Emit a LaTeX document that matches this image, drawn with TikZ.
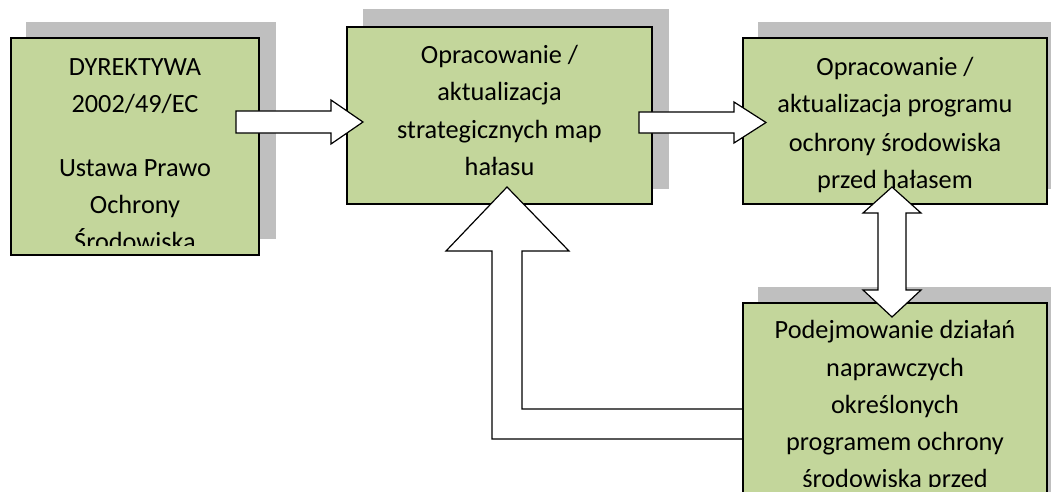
\documentclass[tikz,border=0pt]{standalone}
\usepackage{fontspec}
\setmainfont{Carlito}
\definecolor{boxgreen}{HTML}{C3D69B}
\definecolor{shadowgray}{HTML}{BFBFBF}
\begin{document}
\begin{tikzpicture}[x=1pt,y=-1pt,
  boxs/.style={draw=black,line width=1.5pt,fill=boxgreen,inner sep=0pt,outer sep=0pt,anchor=north west},
  shad/.style={fill=shadowgray,draw=none},
  arr/.style={draw=black,line width=1.2pt,fill=white,line join=miter},
  lbl/.style={font=\fontsize{26.3}{37}\selectfont,anchor=base,inner sep=0pt,text=black}]
\clip (0,0) rectangle (1051,492);
% shadows
\fill[shad] (26,22) rectangle (276,239);
\fill[shad] (363,9) rectangle (669,189);
\fill[shad] (758,22) rectangle (1063,189);
\fill[shad] (758,287) rectangle (1063,504);
% boxes 1-3
\node[boxs,minimum width=248pt,minimum height=217pt] (b1) at (11,38) {};
\node[boxs,minimum width=305pt,minimum height=177pt] (b2) at (347,27) {};
\node[boxs,minimum width=304pt,minimum height=166pt] (b3) at (743,38) {};
% texts
\begin{scope}
\clip (11,38) rectangle (259,245);
\node[lbl] (t1a) at (135,76) {DYREKTYWA};
\node[lbl] (t1b) at (135,113) {2002/49/EC};
\node[lbl] (t1c) at (135,176) {Ustawa Prawo};
\node[lbl] (t1d) at (135,213) {Ochrony};
\node[lbl] (t1e) at (135,250) {Środowiska};
\end{scope}
\node[lbl] (t2a) at (499.5,64) {Opracowanie /};
\node[lbl] (t2b) at (499.5,101) {aktualizacja};
\node[lbl] (t2c) at (499.5,138) {strategicznych map};
\node[lbl] (t2d) at (499.5,175) {hałasu};
\node[lbl] (t3a) at (895,76) {Opracowanie /};
\node[lbl] (t3b) at (895,113) {aktualizacja programu};
\node[lbl] (t3c) at (895,151) {ochrony środowiska};
\node[lbl] (t3d) at (895,188) {przed hałasem};
% block arrows
\draw[arr] (236,111) -- (331,111) -- (331,100) -- (363,122) -- (331,144) -- (331,133) -- (236,133) -- cycle;
\draw[arr] (639,112) -- (734,112) -- (734,102) -- (766,122.5) -- (734,143) -- (734,133) -- (639,133) -- cycle;
\draw[arr] (743,409) -- (522,409) -- (522,251) -- (569,251) -- (507,187) -- (446,251) -- (492,251) -- (492,439) -- (743,439) -- cycle;
% box 4
\node[boxs,minimum width=304pt,minimum height=217pt] (b4) at (743,303) {};
\begin{scope}
\clip (743,303) rectangle (1047,486);
\node[lbl] (t4a) at (895,338) {Podejmowanie działań};
\node[lbl] (t4b) at (895,376) {naprawczych};
\node[lbl] (t4c) at (895,413) {określonych};
\node[lbl] (t4d) at (895,450) {programem ochrony};
\node[lbl] (t4e) at (895,487) {środowiska przed};
\end{scope}
% double arrow
\draw[arr] (892,187) -- (921,213) -- (906,213) -- (906,290) -- (921,290) -- (892,317) -- (863,290) -- (878,290) -- (878,213) -- (863,213) -- cycle;
\end{tikzpicture}
\end{document}
